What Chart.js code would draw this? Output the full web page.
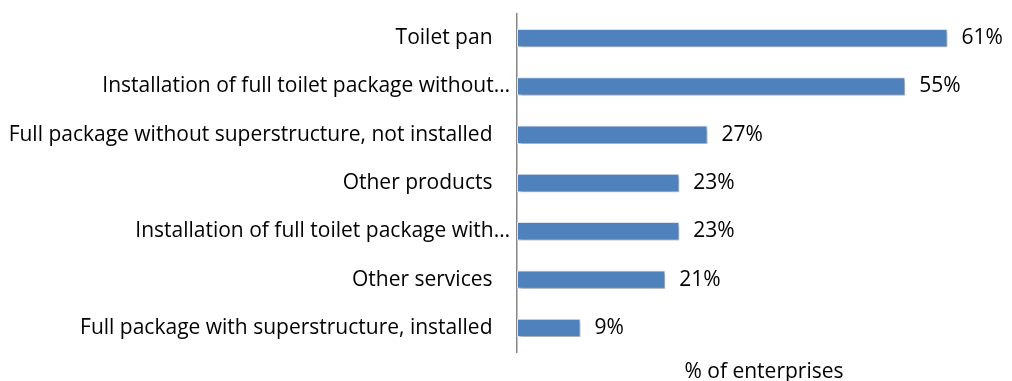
<!DOCTYPE html>
<html>
<head>
<meta charset="utf-8">
<script src="https://cdn.jsdelivr.net/npm/chart.js@4.4.1/dist/chart.umd.min.js"></script>
<style>
  html, body { margin: 0; padding: 0; background: #ffffff; }
  #wrap { width: 1012px; height: 381px; position: relative; }
</style>
</head>
<body>
<div id="wrap"><canvas id="enterpriseChart"></canvas></div>
<script>
// Share of enterprises offering each product / service
const categories = [
    'Toilet pan',
    'Installation of full toilet package without…',
    'Full package without superstructure, not installed',
    'Other products',
    'Installation of full toilet package with…',
    'Other services',
    'Full package with superstructure, installed'
];
const shareValues = [61, 55, 27, 23, 23, 21, 9];
const axisTitle = '% of enterprises';

const FONT = "'Open Sans', 'Liberation Sans', sans-serif";
const FONT_SIZE = 21;
const AXIS_LEFT = 517;

// soft drop shadow under the bars
const barShadow = {
    id: 'barShadow',
    beforeDatasetsDraw(chart) {
        const ctx = chart.ctx;
        ctx.save();
        ctx.shadowColor = 'rgba(0, 0, 0, 0.35)';
        ctx.shadowBlur = 3;
        ctx.shadowOffsetX = 1.5;
        ctx.shadowOffsetY = 2;
    },
    afterDatasetsDraw(chart) {
        chart.ctx.restore();
    }
};

// percentage label to the right of each bar
const valueLabels = {
    id: 'valueLabels',
    afterDatasetsDraw(chart) {
        const ctx = chart.ctx;
        const meta = chart.getDatasetMeta(0);
        ctx.save();
        ctx.font = FONT_SIZE + 'px ' + FONT;
        ctx.fillStyle = '#000000';
        ctx.textAlign = 'left';
        ctx.textBaseline = 'middle';
        meta.data.forEach((bar, i) => {
            ctx.fillText(shareValues[i] + '%', bar.x + 14, bar.y);
        });
        ctx.restore();
    }
};

new Chart(document.getElementById('enterpriseChart'), {
    type: 'bar',
    data: {
        labels: categories,
        datasets: [{
            data: shareValues,
            backgroundColor: '#4f81bd',
            borderColor: '#dce6f2',
            borderWidth: 1,
            borderSkipped: false,
            barPercentage: 0.38,
            categoryPercentage: 1.0
        }]
    },
    options: {
        indexAxis: 'y',
        responsive: true,
        maintainAspectRatio: false,
        animation: false,
        layout: { padding: { top: 14, right: 1, left: 0, bottom: 0 } },
        plugins: {
            legend: { display: false },
            tooltip: { enabled: false }
        },
        scales: {
            x: {
                min: 0,
                max: 70,
                grid: { display: false },
                border: { display: false },
                ticks: { display: false },
                afterFit: (scale) => { scale.height = 29; },
                title: {
                    display: true,
                    text: axisTitle,
                    color: '#000000',
                    font: { family: FONT, size: FONT_SIZE },
                    padding: { top: 0, bottom: -4 }
                }
            },
            y: {
                grid: { display: false, drawTicks: false },
                border: { display: true, color: '#868686', width: 1.5 },
                afterFit: (scale) => {
                    scale.width = AXIS_LEFT;
                    scale.paddingTop = 0;
                    scale.paddingBottom = 0;
                },
                ticks: {
                    color: '#000000',
                    font: { family: FONT, size: FONT_SIZE },
                    padding: 7,
                    autoSkip: false,
                    callback: function (value) {
                        const text = this.getLabelForValue(value);
                        // truncated labels sit a little closer to the axis
                        return text.endsWith('…') ? text : text + '\u2002\u2004';
                    }
                }
            }
        }
    },
    plugins: [barShadow, valueLabels]
});
</script>
</body>
</html>
